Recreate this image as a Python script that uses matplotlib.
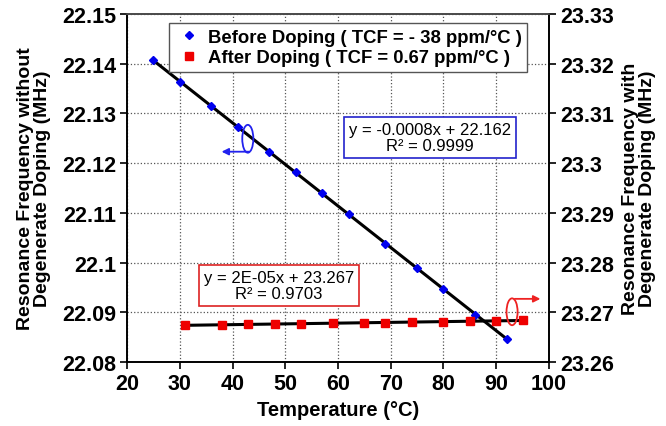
import numpy as np
import matplotlib
matplotlib.use('Agg')
import matplotlib.pyplot as plt
from matplotlib.patches import Ellipse

plt.rcParams['font.family'] = ['Liberation Sans', 'DejaVu Sans']

# before doping (left axis)
temp_before = [25, 30, 36, 41, 47, 52, 57, 62, 69, 75, 80, 86, 92]
freq_before = [22.1407, 22.1363, 22.1315, 22.1273, 22.1222, 22.1182, 22.1140,
               22.1097, 22.1037, 22.0989, 22.0947, 22.0895, 22.0847]

# after doping (right axis)
temp_after = [31, 38, 43, 48, 53, 59, 65, 69, 74, 80, 85, 90, 95]
freq_after = [23.2674, 23.2675, 23.2676, 23.2676, 23.2677, 23.2678, 23.2679,
              23.2679, 23.2680, 23.2681, 23.2682, 23.2683, 23.2684]

x_ticks = [20, 30, 40, 50, 60, 70, 80, 90, 100]
left_ticks = [22.08, 22.09, 22.1, 22.11, 22.12, 22.13, 22.14, 22.15]
right_ticks = [23.26, 23.27, 23.28, 23.29, 23.3, 23.31, 23.32, 23.33]

fig = plt.figure(figsize=(6.66, 4.27), dpi=100)
ax = fig.add_axes([0.1907, 0.1499, 0.6336, 0.815])
ax2 = ax.twinx()

ax.set_xlim(20, 100)
ax.set_ylim(22.08, 22.15)
ax2.set_ylim(23.26, 23.33)
ax.set_xticks(x_ticks)
ax.set_yticks(left_ticks)
ax2.set_yticks(right_ticks)
ax.set_yticklabels(['%g' % v for v in left_ticks])
ax2.set_yticklabels(['%g' % v for v in right_ticks])
ax.set_xticklabels([str(v) for v in x_ticks])

for a in (ax, ax2):
    a.tick_params(direction='out', length=5, width=1.2, labelsize=15.5, pad=3)
    for lab in a.get_xticklabels() + a.get_yticklabels():
        lab.set_fontweight('bold')
    for s in a.spines.values():
        s.set_linewidth(1.2)
ax2.spines['top'].set_color('#555555')

ax.grid(True, linestyle=':', color='#555555', linewidth=0.9)
ax.set_axisbelow(True)

# fits
p1 = np.polyfit(temp_before, freq_before, 1)
xf1 = np.array([temp_before[0], temp_before[-1]])
ax.plot(xf1, np.polyval(p1, xf1), color='black', lw=2.2, zorder=3)
p2 = np.polyfit(temp_after, freq_after, 1)
xf2 = np.array([temp_after[0], temp_after[-1]])
ax2.plot(xf2, np.polyval(p2, xf2), color='black', lw=2.2, zorder=3)

h1, = ax.plot(temp_before, freq_before, 'D', color='#0000ee', ms=4.5,
              ls='none', zorder=4, label='Before Doping ( TCF = - 38 ppm/°C )')
h2, = ax2.plot(temp_after, freq_after, 's', color='#ee0000', ms=6,
               ls='none', zorder=4, label='After Doping ( TCF = 0.67 ppm/°C )')

leg = ax2.legend(handles=[h1, h2], loc='upper left', bbox_to_anchor=(0.078, 1.0),
                 prop={'weight': 'bold', 'size': 13.3}, fancybox=False,
                 edgecolor='#555555', framealpha=1, borderpad=0.3,
                 handletextpad=0.3, labelspacing=0.2, handlelength=1.5)
leg.get_frame().set_linewidth(1.0)

ax2.text(0.718, 0.644, 'y = -0.0008x + 22.162\nR² = 0.9999', transform=ax2.transAxes,
         ha='center', va='center', fontsize=12, linespacing=1.1,
         bbox=dict(boxstyle='square,pad=0.3', fc='white', ec='#2222cc', lw=1.2))
ax2.text(0.36, 0.22, 'y = 2E-05x + 23.267\nR² = 0.9703', transform=ax2.transAxes,
         ha='center', va='center', fontsize=12, linespacing=1.1,
         bbox=dict(boxstyle='square,pad=0.3', fc='white', ec='#dd2222', lw=1.2))

# axis markers
ax2.add_patch(Ellipse((42.9, 22.1249 + 1.18), 2.1, 0.0056, fill=False,
                      ec='#2222ee', lw=1.3, zorder=5))
ax2.annotate('', xy=(37.4, 22.1223 + 1.18), xytext=(43.6, 22.1223 + 1.18),
             arrowprops=dict(arrowstyle='-|>', color='#2222ee', lw=1.3), zorder=5)
ax2.add_patch(Ellipse((93.0, 23.2701), 2.1, 0.0054, fill=False,
                      ec='#ee2222', lw=1.3, zorder=5))
ax2.annotate('', xy=(98.9, 23.2727), xytext=(93.0, 23.2727),
             arrowprops=dict(arrowstyle='-|>', color='#ee2222', lw=1.3),
             annotation_clip=False, zorder=5)

ax.set_xlabel('Temperature (°C)', fontsize=14.5, fontweight='bold', labelpad=4)
ax.set_ylabel('Resonance Frequency without\nDegenerate Doping (MHz)',
              fontsize=14, fontweight='bold', labelpad=8, linespacing=1.0)
ax2.set_ylabel('Resonance Frequency with\nDegenerate Doping (MHz)',
               fontsize=14, fontweight='bold', labelpad=6, linespacing=1.0)

fig.savefig('out.png', dpi=100)
